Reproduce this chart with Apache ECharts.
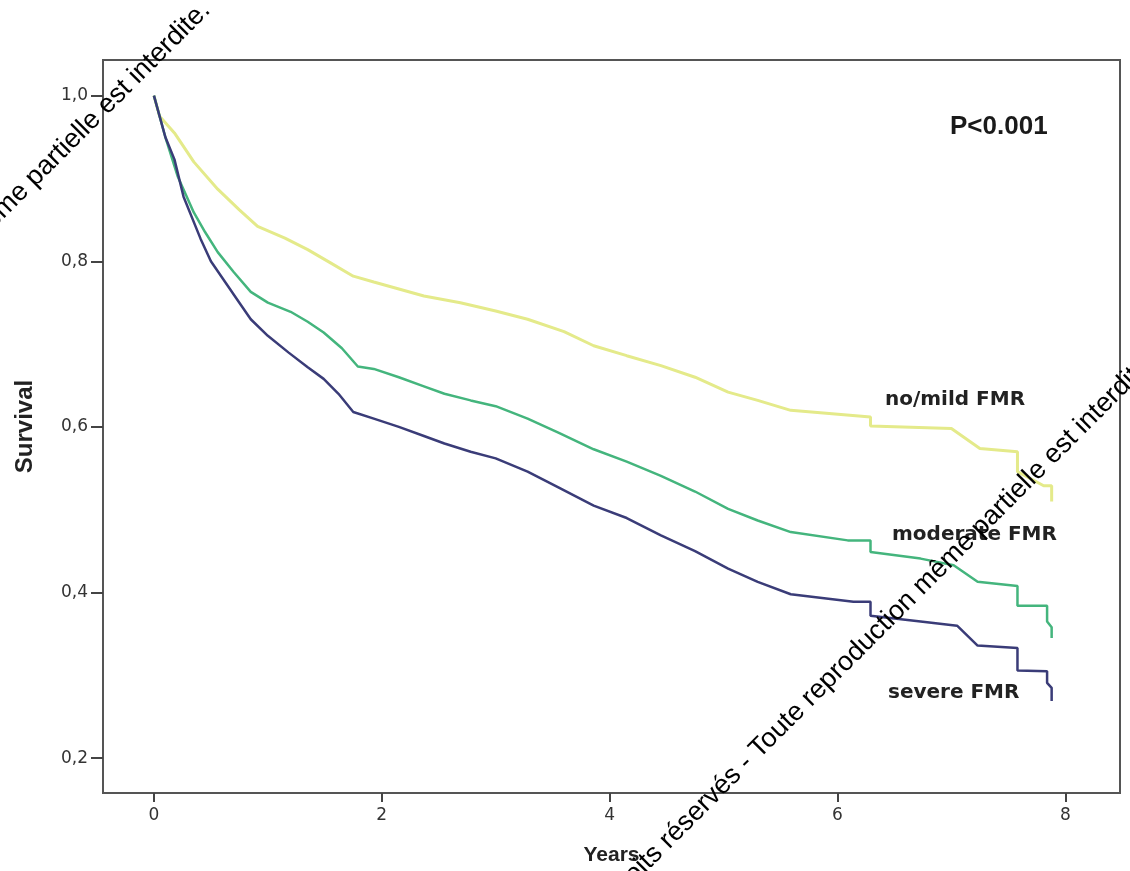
<!DOCTYPE html>
<html>
<head>
<meta charset="utf-8">
<title>Survival by FMR grade</title>
<script src="https://cdn.jsdelivr.net/npm/echarts@6/dist/echarts.min.js"></script>
<style>
    html, body { margin: 0; padding: 0; background: #fff; }
    #chart { width: 1130px; height: 871px; }
</style>
</head>
<body>
<div id="chart"></div>
<script>
// Kaplan-Meier curves (years, survival).
// dense early part as a polyline, the late drops as explicit steps
var mildYears = [0, 0.05, 0.18, 0.35, 0.56, 0.75, 0.91, 1.15, 1.35, 1.55, 1.75, 1.93, 2.37, 2.69, 3.0, 3.28, 3.6, 3.86, 4.15, 4.45, 4.75, 5.04, 5.3, 5.59, 6.29, 6.29, 7.0, 7.25, 7.58, 7.58, 7.81, 7.88, 7.88];
var mildSurv = [1.0, 0.975, 0.955, 0.92, 0.887, 0.862, 0.842, 0.828, 0.814, 0.798, 0.782, 0.775, 0.758, 0.75, 0.74, 0.73, 0.715, 0.698, 0.686, 0.674, 0.66, 0.642, 0.632, 0.62, 0.612, 0.601, 0.598, 0.574, 0.57, 0.546, 0.529, 0.529, 0.51];

var modYears = [0, 0.1, 0.21, 0.35, 0.45, 0.56, 0.7, 0.85, 1.0, 1.2, 1.35, 1.49, 1.65, 1.79, 1.93, 2.15, 2.37, 2.55, 2.78, 3.0, 3.28, 3.55, 3.86, 4.15, 4.45, 4.75, 5.04, 5.3, 5.59, 6.09, 6.29, 6.29, 6.73, 7.02, 7.23, 7.58, 7.58, 7.84, 7.84, 7.88, 7.88];
var modSurv = [1.0, 0.95, 0.902, 0.859, 0.835, 0.811, 0.787, 0.763, 0.75, 0.739, 0.727, 0.714, 0.695, 0.673, 0.67, 0.66, 0.649, 0.64, 0.632, 0.625, 0.61, 0.593, 0.573, 0.558, 0.541, 0.522, 0.501, 0.487, 0.473, 0.463, 0.463, 0.449, 0.441, 0.433, 0.413, 0.408, 0.384, 0.384, 0.365, 0.358, 0.345];

var sevYears = [0, 0.1, 0.18, 0.26, 0.41, 0.5, 0.61, 0.75, 0.85, 1.0, 1.18, 1.35, 1.49, 1.62, 1.75, 1.93, 2.15, 2.37, 2.55, 2.78, 3.0, 3.28, 3.55, 3.86, 4.15, 4.45, 4.75, 5.04, 5.3, 5.59, 6.14, 6.29, 6.29, 6.73, 7.05, 7.23, 7.58, 7.58, 7.84, 7.84, 7.88, 7.88];
var sevSurv = [1.0, 0.95, 0.923, 0.878, 0.827, 0.8, 0.778, 0.75, 0.73, 0.71, 0.69, 0.672, 0.658, 0.64, 0.618, 0.61, 0.6, 0.589, 0.58, 0.57, 0.562, 0.546, 0.527, 0.505, 0.49, 0.469, 0.45, 0.429, 0.413, 0.398, 0.389, 0.389, 0.372, 0.365, 0.36, 0.336, 0.333, 0.306, 0.305, 0.291, 0.285, 0.269];

var xTicks = [0, 2, 4, 6, 8];
var yTicks = [0.2, 0.4, 0.6, 0.8, 1.0];

var groupNames = ['no/mild FMR', 'moderate FMR', 'severe FMR'];
var pValue = 'P<0.001';
var watermark = 'GRCI, Tous droits réservés - Toute reproduction même partielle est interdite.';

// pair up years and survival
function toPoints(xs, ys) {
    var out = [];
    for (var i = 0; i < xs.length; i++) {
        out.push([xs[i], ys[i]]);
    }
    return out;
}

var myChart = echarts.init(document.getElementById('chart'));

var labelFont = 'bold 20px "DejaVu Sans"';
var markFont = '27px "Liberation Sans"';

var option = {
    backgroundColor: '#fff',
    animation: false,
    grid: {
        left: 103,
        right: 10,
        top: 60,
        bottom: 75,
        show: true,
        borderColor: '#555',
        borderWidth: 2
    },
    xAxis: {
        type: 'value',
        min: -0.447,
        max: 8.48,
        name: 'Years',
        nameLocation: 'middle',
        nameGap: 52,
        nameTextStyle: {
            fontFamily: 'Liberation Sans',
            fontWeight: 'bold',
            fontSize: 21,
            color: '#222'
        },
        axisLine: { show: true, onZero: false, lineStyle: { color: '#555', width: 2 } },
        axisTick: { show: true, length: 9, customValues: xTicks, lineStyle: { color: '#444', width: 2 } },
        axisLabel: {
            customValues: xTicks,
            margin: 14,
            fontFamily: 'DejaVu Sans',
            fontSize: 17,
            color: '#333'
        },
        splitLine: { show: false }
    },
    yAxis: {
        type: 'value',
        min: 0.158,
        max: 1.043,
        name: 'Survival',
        nameLocation: 'middle',
        nameGap: 66,
        nameRotate: 90,
        nameTextStyle: {
            fontFamily: 'Liberation Sans',
            fontWeight: 'bold',
            fontSize: 24,
            color: '#222'
        },
        axisLine: { show: true, onZero: false, lineStyle: { color: '#555', width: 2 } },
        axisTick: { show: true, length: 12, customValues: yTicks, lineStyle: { color: '#444', width: 2 } },
        axisLabel: {
            customValues: yTicks,
            margin: 15,
            fontFamily: 'DejaVu Sans',
            fontSize: 17,
            color: '#333',
            formatter: function (v) {
                return v.toFixed(1).replace('.', ',');
            }
        },
        splitLine: { show: false }
    },
    series: [{
        name: groupNames[0],
        type: 'line',
        showSymbol: false,
        data: toPoints(mildYears, mildSurv),
        lineStyle: { color: '#e4ea8a', width: 3 },
        z: 3
    }, {
        name: groupNames[1],
        type: 'line',
        showSymbol: false,
        data: toPoints(modYears, modSurv),
        lineStyle: { color: '#44b57d', width: 2.5 },
        z: 4
    }, {
        name: groupNames[2],
        type: 'line',
        showSymbol: false,
        data: toPoints(sevYears, sevSurv),
        lineStyle: { color: '#3a3c78', width: 2.5 },
        z: 5
    }],
    graphic: [
        {
            type: 'text', x: 950, y: 127, z: 10,
            style: { text: pValue, font: 'bold 26px "Liberation Sans"', fill: '#1a1a1a', textVerticalAlign: 'middle' }
        },
        {
            type: 'text', x: 885, y: 400, z: 10,
            style: { text: groupNames[0], font: labelFont, fill: '#222', textVerticalAlign: 'middle' }
        },
        {
            type: 'text', x: 892, y: 535, z: 10,
            style: { text: groupNames[1], font: labelFont, fill: '#222', textVerticalAlign: 'middle' }
        },
        {
            type: 'text', x: 888, y: 693, z: 10,
            style: { text: groupNames[2], font: labelFont, fill: '#222', textVerticalAlign: 'middle' }
        },
        // small black watermark lines
        {
            type: 'text', x: 206, y: 6, rotation: Math.PI / 4, z: 20,
            style: { text: watermark, font: markFont, fill: '#000', textAlign: 'right', textVerticalAlign: 'middle' }
        },
        {
            type: 'text', x: 1152, y: 356, rotation: Math.PI / 4, z: 20,
            style: { text: watermark, font: markFont, fill: '#000', textAlign: 'right', textVerticalAlign: 'middle' }
        }
    ]
};

myChart.setOption(option);
</script>
</body>
</html>
